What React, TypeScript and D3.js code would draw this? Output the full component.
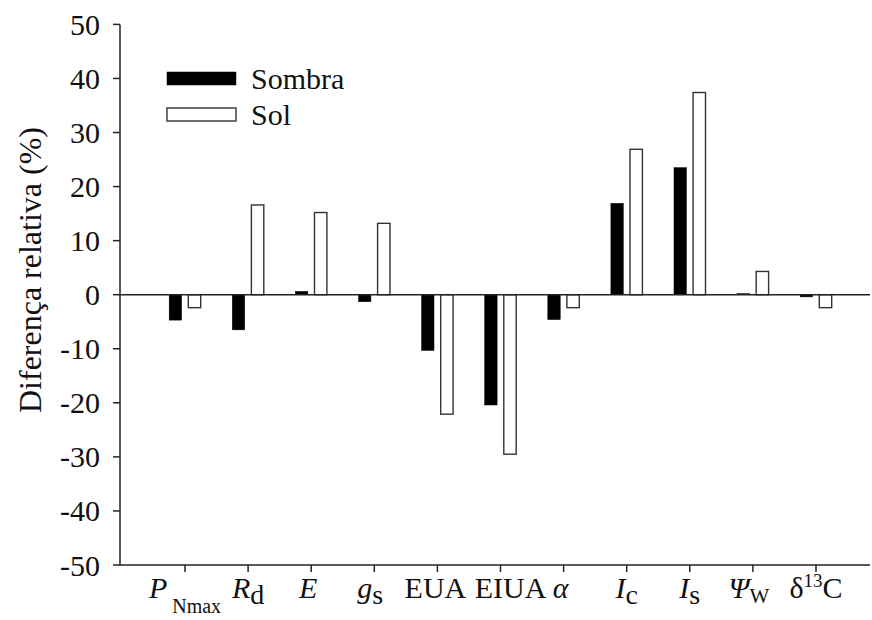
import React from "react";
import * as d3 from "d3";

// Relative difference (%) of each leaf trait, shade vs. sun
const categories = ["PNmax", "Rd", "E", "gs", "EUA", "EIUA", "alpha", "Ic", "Is", "Psiw", "d13C"];
const sombra = [-4.7, -6.5, 0.6, -1.3, -10.3, -20.4, -4.6, 16.9, 23.5, 0.2, -0.4];
const sol = [-2.4, 16.6, 15.2, 13.2, -22.1, -29.5, -2.4, 26.9, 37.4, 4.3, -2.4];
const seriesNames = ["Sombra", "Sol"];
const yTicks = [50, 40, 30, 20, 10, 0, -10, -20, -30, -40, -50];

type Part = { t: string; it?: boolean; dy?: number; size?: number };
const categoryLabels: Part[][] = [
  [{ t: "P", it: true }, { t: " Nmax", size: 20, dy: 15 }],
  [{ t: "R", it: true }, { t: "d", size: 28, dy: 6 }],
  [{ t: "E", it: true }],
  [{ t: "g", it: true }, { t: "s", size: 28, dy: 6 }],
  [{ t: "EUA" }],
  [{ t: "EIUA" }],
  [{ t: "α", it: true }],
  [{ t: "I", it: true }, { t: "c", size: 28, dy: 6 }],
  [{ t: "I", it: true }, { t: "s", size: 28, dy: 6 }],
  [{ t: "Ψ", it: true }, { t: "W", size: 21, dy: 5 }],
  [{ t: "δ" }, { t: "13", size: 19, dy: -11 }, { t: "C", dy: 11 }],
];
// small horizontal nudges of the category labels
const labelShift = [0, 0, -3, -4, -2, 10, -3, 0, 0, -4, 0];

const W = 872;
const H = 620;
const left = 120;
const right = 870;
const top = 24.4;
const bottom = 565;
const font = "'Liberation Serif', 'Times New Roman', Times, serif";
const fs = 30;

export default function App() {
  const x = d3.scaleBand<string>().domain(categories).range([153.45, 847.55]).padding(0);
  const xs = d3.scaleBand<string>().domain(seriesNames).range([15.75, 47.25]).paddingInner(0.35);
  const y = d3.scaleLinear().domain([-50, 50]).range([bottom, top]);
  const y0 = y(0);
  const values = [sombra, sol];
  const txt = { fontFamily: font };

  return (
    <svg width={W} height={H} style={{ position: "absolute", left: 0, top: 0, background: "#fff" }}>
      {/* bars */}
      {categories.map((c, i) =>
        seriesNames.map((s, k) => {
          const v = values[k][i];
          const bx = (x(c) ?? 0) + (xs(s) ?? 0);
          const yt = Math.min(y(v), y0);
          const h = Math.abs(y(v) - y0);
          return (
            <rect
              key={c + s}
              x={bx}
              y={yt}
              width={xs.bandwidth()}
              height={h}
              fill={k === 0 ? "#000" : "#fff"}
              stroke={k === 0 ? "#000" : "#333"}
              strokeWidth={k === 0 ? 0.5 : 1.4}
            />
          );
        })
      )}

      {/* zero line */}
      <line x1={left} x2={right} y1={y0} y2={y0} stroke="#222" strokeWidth={1.5} />

      {/* y axis */}
      <line x1={left} x2={left} y1={top} y2={bottom} stroke="#222" strokeWidth={1.5} />
      {yTicks.map((t) => (
        <g key={t}>
          <line x1={left - 7} x2={left} y1={y(t)} y2={y(t)} stroke="#222" strokeWidth={1.5} />
          <text
            x={left - 20}
            y={y(t)}
            dy="0.35em"
            textAnchor="end"
            style={txt}
            fontSize={fs}
            fill="#111"
          >
            {t}
          </text>
        </g>
      ))}
      <text
        transform={`translate(30, 270) rotate(-90)`}
        textAnchor="middle"
        dy="0.35em"
        style={txt}
        fontSize={32}
        fill="#111"
      >
        Diferença relativa (%)
      </text>

      {/* x axis */}
      <line x1={left} x2={right} y1={bottom} y2={bottom} stroke="#222" strokeWidth={1.5} />
      {categories.map((c, i) => {
        const cx = (x(c) ?? 0) + x.bandwidth() / 2;
        return (
          <g key={c}>
            <line x1={cx} x2={cx} y1={bottom} y2={bottom + 7} stroke="#222" strokeWidth={1.5} />
            <text
              x={cx + labelShift[i]}
              y={598}
              textAnchor="middle"
              style={txt}
              fontSize={fs}
              fill="#111"
            >
              {categoryLabels[i].map((p, j) => (
                <tspan
                  key={j}
                  fontStyle={p.it ? "italic" : "normal"}
                  fontSize={p.size ?? fs}
                  dy={p.dy ?? 0}
                >
                  {p.t}
                </tspan>
              ))}
            </text>
          </g>
        );
      })}

      {/* legend */}
      {seriesNames.map((s, k) => (
        <g key={s} transform={`translate(0, ${72 + k * 36})`}>
          <rect
            x={167}
            y={0}
            width={69}
            height={13}
            fill={k === 0 ? "#000" : "#fff"}
            stroke={k === 0 ? "#000" : "#333"}
            strokeWidth={k === 0 ? 0.5 : 1.4}
          />
          <text x={251} y={6.5} dy="0.35em" style={txt} fontSize={fs} fill="#111">
            {s}
          </text>
        </g>
      ))}
    </svg>
  );
}
